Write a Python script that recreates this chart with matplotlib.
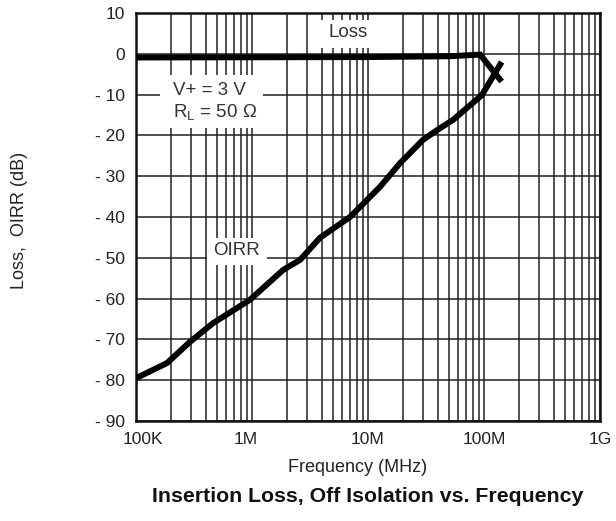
import matplotlib
matplotlib.use("Agg")
import matplotlib.pyplot as plt
from matplotlib.patches import Rectangle
from matplotlib.ticker import FixedLocator, NullFormatter
from matplotlib.transforms import ScaledTranslation
import numpy as np

plt.rcParams['font.family'] = ['Liberation Sans', 'DejaVu Sans']

# Data (frequency in Hz, values in dB)
oirr_freq = [1.0e5, 1.85e5, 2.92e5, 4.62e5, 0.96e6, 1.85e6, 2.6e6, 3.85e6,
             7.0e6, 1.27e7, 1.89e7, 2.98e7, 3.94e7, 5.41e7, 9.6e7, 1.42e8]
oirr_db = [-79.5, -75.8, -70.6, -66.0, -60.3, -53.0, -50.5, -45.1,
           -40.0, -32.6, -26.8, -21.1, -18.7, -16.2, -10.1, -2.0]
loss_freq = [1.0e5, 1.0e7, 5.0e7, 9.25e7, 1.42e8]
loss_db = [-0.9, -0.8, -0.6, -0.2, -6.8]

x_ticks = [1e5, 1e6, 1e7, 1e8, 1e9]
x_labels = ['100K', '1M', '10M', '100M', '1G']
y_ticks = [10, 0, -10, -20, -30, -40, -50, -60, -70, -80, -90]
y_labels = ['10', '0', '- 10', '- 20', '- 30', '- 40', '- 50', '- 60', '- 70', '- 80', '- 90']

fig = plt.figure(figsize=(6.16, 5.21), dpi=100)
ax = fig.add_axes([136/616, 100/521, 464/616, 408/521])
ax.set_xscale('log')
ax.set_xlim(1e5, 1e9)
ax.set_ylim(-90, 10)

ax.xaxis.set_major_locator(FixedLocator(x_ticks))
minor = [m * 10**d for d in range(5, 9) for m in range(2, 10)]
ax.xaxis.set_minor_locator(FixedLocator(minor))
ax.xaxis.set_minor_formatter(NullFormatter())
ax.set_xticklabels(x_labels)
ax.set_yticks(y_ticks)
ax.set_yticklabels(y_labels)
ax.tick_params(axis='both', which='both', length=0, labelsize=12.5, colors='#222222')
ax.tick_params(axis='x', pad=8)
ax.tick_params(axis='y', pad=8)

# small horizontal offsets of x tick labels as in the reference
offsets_px = [7, -6, 0, 0, 0]
for lab, dx in zip(ax.get_xticklabels(), offsets_px):
    lab.set_transform(lab.get_transform() + ScaledTranslation(dx / 100, 0, fig.dpi_scale_trans))

ax.grid(True, which='both', axis='x', color='#222222', linewidth=1.1)
ax.grid(True, which='major', axis='y', color='#222222', linewidth=1.1)
ax.set_axisbelow(True)
for s in ax.spines.values():
    s.set_linewidth(1.8)
    s.set_color('#111111')

# white label boxes hiding the grid
boxes = [((3.9e6, 1.4), 11.6e6, 8.3),
         ((1.61e5, -18.2), 1.24e6, -5.2),
         ((4.09e5, -51.8), 1.35e6, -45.1)]
for (x0, y0), x1, y1 in boxes:
    ax.add_patch(Rectangle((x0, y0), x1 - x0, y1 - y0, facecolor='white',
                           edgecolor='none', zorder=2))

ax.plot(loss_freq, loss_db, color='black', linewidth=4.3, zorder=4,
        solid_capstyle='butt', solid_joinstyle='miter')
ax.plot(oirr_freq, oirr_db, color='black', linewidth=4.3, zorder=4,
        solid_capstyle='butt', solid_joinstyle='round')

fs_ann = 13.5
ax.text(6.73e6, 5.1, 'Loss', ha='center', va='center', fontsize=fs_ann, color='#333333', zorder=3)
ax.text(2.08e5, -8.9, 'V+ = 3 V', ha='left', va='center', fontsize=fs_ann, color='#333333', zorder=3)
ax.text(2.08e5, -14.5, r'R$_\mathregular{L}$ = 50 Ω', ha='left', va='center', fontsize=fs_ann,
        color='#333333', zorder=3)
ax.text(7.28e5, -48.3, 'OIRR', ha='center', va='center', fontsize=fs_ann, color='#333333', zorder=3)

fig.text(358/616, 1 - 467/521, 'Frequency (MHz)', ha='center', va='center', fontsize=13,
         color='#222222')
fig.text(20/616, 1 - 220/521, 'Loss,  OIRR (dB)', ha='center', va='center', rotation=90,
         fontsize=13, color='#222222')
fig.text(368/616, 1 - 497/521, 'Insertion Loss, Off Isolation vs. Frequency', ha='center',
         va='center', fontsize=15.3, fontweight='bold', color='#111111')

fig.savefig('out.png', dpi=100)
